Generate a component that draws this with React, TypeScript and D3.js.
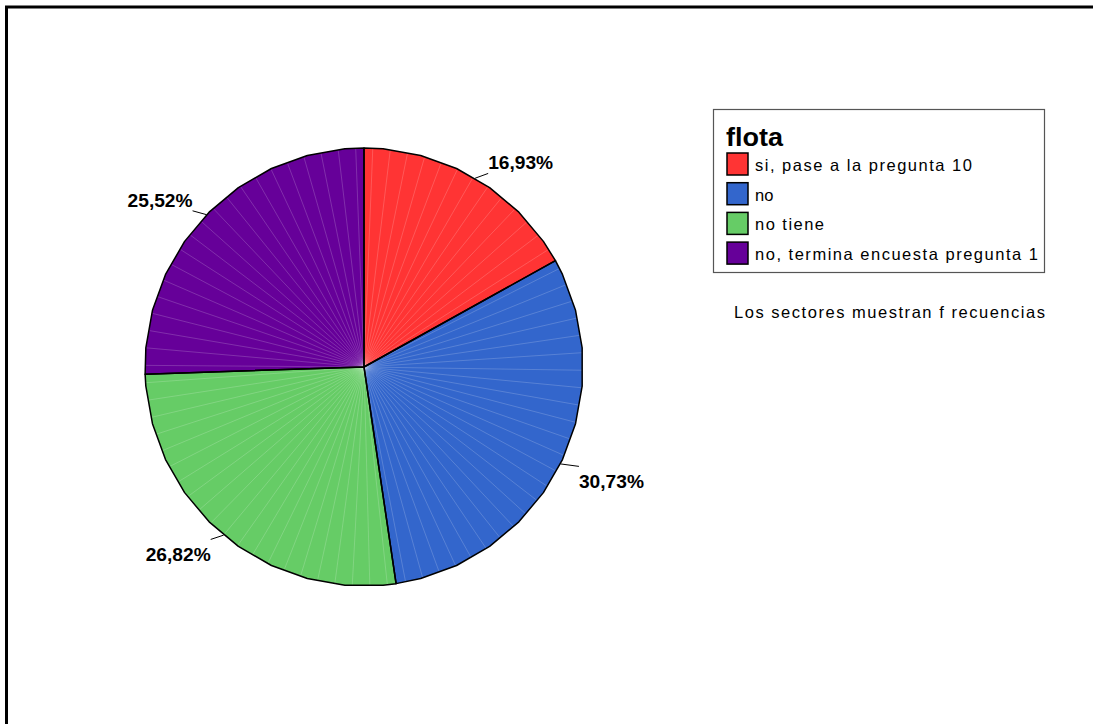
import React from 'react';
import * as d3 from 'd3';

const categories = ['si, pase a la pregunta 10', 'no', 'no tiene', 'no, termina encuesta pregunta 1'];
const legendWidths = [217, 0, 69, 283];
const percents = [16.93, 30.73, 26.82, 25.52];
const labels = ['16,93%', '30,73%', '26,82%', '25,52%'];
const colors = ['#FF3434', '#3366CC', '#66CC66', '#660099'];
const legendTitle = 'flota';
const footnote = 'Los sectores muestran f recuencias';

const W = 1098;
const H = 724;
const cx = 364;
const cy = 367;
const R = 219;
const FONT = "'Liberation Sans', Arial, sans-serif";

export default function App() {
  const pie = d3.pie<number>().sort(null).value(d => d)(percents);
  const toRad = (deg: number) => (deg * Math.PI) / 180;
  const pt = (a: number, r: number) => d3.pointRadial(a, r);

  const slices = pie.map((p, i) => {
    // polygonal outline: vertices every 10 degrees, offset 5
    const pts: [number, number][] = [[0, 0], pt(p.startAngle, R)];
    for (let k = 0; k < 36; k++) {
      const a = toRad(5 + k * 10);
      if (a > p.startAngle && a < p.endAngle) pts.push(pt(a, R));
    }
    pts.push(pt(p.endAngle, R));
    const path = d3.line()(pts) + 'Z';
    // faint radial lines
    const rays: [number, number][] = [];
    const step = toRad(4.6);
    for (let a = p.startAngle + step / 2; a < p.endAngle; a += step) rays.push(pt(a, R + 2));
    const mid = (p.startAngle + p.endAngle) / 2;
    return { p, i, path, rays, mid };
  });

  return (
    <svg width={W} height={H} style={{ position: 'absolute', left: 0, top: 0, background: '#fff' }}>
      {/* frame */}
      <line x1={5} x2={1093} y1={7} y2={7} stroke="#000" strokeWidth={3} />
      <line x1={6.5} x2={6.5} y1={6} y2={H} stroke="#000" strokeWidth={3} />

      <g transform={`translate(${cx},${cy})`}>
        <defs>
          {slices.map(s => (
            <clipPath id={`clip${s.i}`} key={s.i}>
              <path d={s.path} />
            </clipPath>
          ))}
        </defs>
        {slices.map(s => (
          <g key={s.i}>
            <path d={s.path} fill={colors[s.i]} />
            <g clipPath={`url(#clip${s.i})`}>
              {s.rays.map((r, j) => (
                <line key={j} x1={0} y1={0} x2={r[0]} y2={r[1]} stroke="#fff" strokeOpacity={0.3} strokeWidth={0.6} />
              ))}
            </g>
          </g>
        ))}
        {slices.map(s => (
          <path key={'o' + s.i} d={s.path} fill="none" stroke="#000" strokeWidth={1.5} strokeLinejoin="round" />
        ))}
        {slices.map(s => {
          const [x1, y1] = pt(s.mid, R);
          const right = Math.sin(s.mid) >= 0;
          const [, oy] = pt(s.mid, R + 14);
          const dx = 4 + 14 * Math.abs(Math.sin(s.mid));
          const x2 = right ? x1 + dx + 2 : x1 - dx;
          const y2 = y1 + (oy - y1) * 0.4;
          const below = Math.cos(s.mid) < 0;
          return (
            <g key={'l' + s.i}>
              <line x1={x1} y1={y1} x2={x2} y2={y2} stroke="#000" strokeWidth={1} />
              <text
                x={x2}
                y={y2 + (below ? 22 : -4)}
                textAnchor={right ? 'start' : 'end'}
                fontFamily={FONT}
                fontWeight="bold"
                fontSize={18}
                textLength={65}
                lengthAdjust="spacingAndGlyphs"
                fill="#000"
              >
                {labels[s.i]}
              </text>
            </g>
          );
        })}
      </g>

      {/* legend */}
      <rect x={713.5} y={109.5} width={331} height={163} fill="#fff" stroke="#555" strokeWidth={1.2} />
      <text x={726} y={146} fontFamily={FONT} fontWeight="bold" fontSize={25} textLength={57} lengthAdjust="spacingAndGlyphs" fill="#000">{legendTitle}</text>
      {categories.map((c, i) => (
        <g key={c} transform={`translate(727,${153 + i * 29.7})`}>
          <rect x={0} y={0} width={21} height={22} fill={colors[i]} stroke="#000" strokeWidth={1.5} />
          <text
            x={28}
            y={18}
            fontFamily={FONT}
            fontSize={16.5}
            textLength={legendWidths[i] || undefined}
            lengthAdjust="spacing"
            fill="#000"
          >
            {c}
          </text>
        </g>
      ))}
      <text x={734} y={318} fontFamily={FONT} fontSize={16.5} textLength={311} lengthAdjust="spacing" fill="#000">{footnote}</text>
    </svg>
  );
}
